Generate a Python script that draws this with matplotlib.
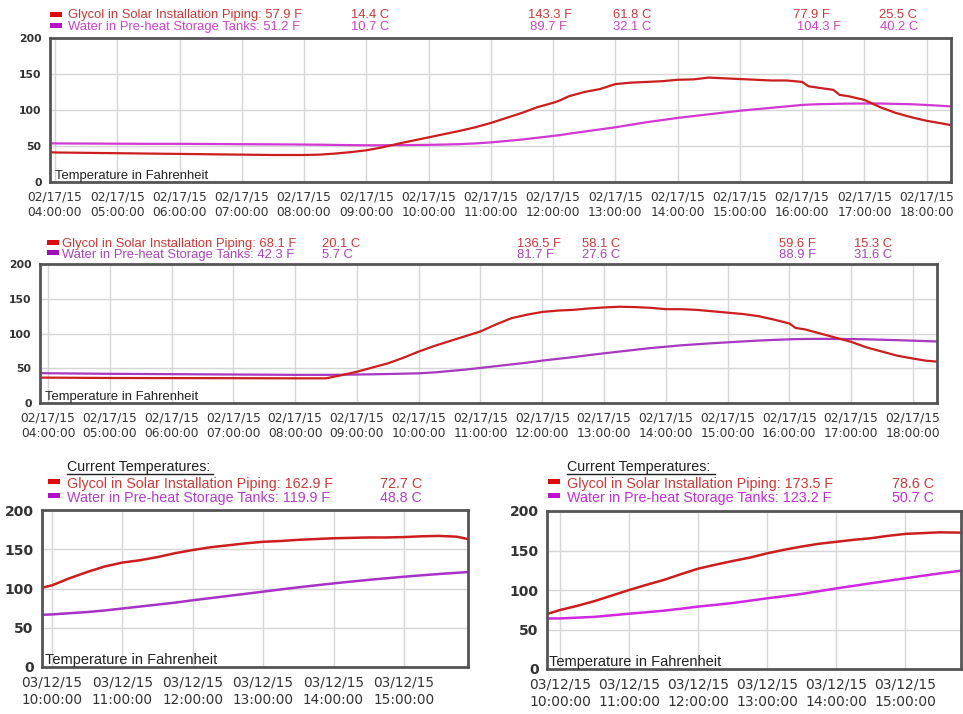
import matplotlib
matplotlib.use("Agg")
import matplotlib.pyplot as plt
from matplotlib.lines import Line2D
from matplotlib.patches import Rectangle

W, H = 963, 714

# hour ticks
feb_hours = [4, 5, 6, 7, 8, 9, 10, 11, 12, 13, 14, 15, 16, 17, 18]
mar_hours = [10, 11, 12, 13, 14, 15]

# panel 1 (02/17/15, first day view)
p1_time = [3.92, 4.0, 4.5, 5.0, 5.5, 6.0, 6.5, 7.0, 7.5, 8.0, 8.25, 8.5, 8.75, 9.0,
           9.25, 9.5, 9.75, 10.0, 10.25, 10.5, 10.75, 11.0, 11.25, 11.5, 11.75, 12.0,
           12.1, 12.25, 12.5, 12.75, 13.0, 13.25, 13.5, 13.75, 14.0, 14.25, 14.5,
           14.75, 15.0, 15.25, 15.5, 15.75, 16.0, 16.1, 16.25, 16.5, 16.6, 16.75,
           17.0, 17.25, 17.5, 17.75, 18.0, 18.2, 18.39]
p1_glycol = [41.5, 41, 40.5, 40, 39.5, 39, 38.5, 38, 37.5, 37.5, 38, 39.5, 41.5, 44,
             48, 53, 57.5, 62, 66.5, 71, 76, 82, 89, 96, 104, 110,
             113, 119, 125, 129, 136, 138, 139, 140, 142, 142.5, 145,
             144, 143, 142, 141, 141, 139, 133, 131, 128, 121, 119,
             114, 104, 96, 90, 85, 82, 79]
p1_water = [53.8, 53.6, 53.4, 53.2, 53.0, 53.0, 52.8, 52.5, 52.3, 52.0, 51.8, 51.5, 51.2, 51.0,
            51.0, 51.2, 51.4, 51.6, 52.0, 52.6, 53.6, 55, 57, 59, 61.5, 64,
            65, 67, 70, 73, 76, 79.5, 83, 86, 89, 91.5, 94,
            96.5, 99, 101, 103, 105, 107, 107.5, 108, 108.5, 108.7, 108.9,
            109, 109, 108.5, 108, 107, 106, 105]

# panel 2 (02/17/15, second view)
p2_time = [3.87, 4.0, 5.0, 6.0, 7.0, 8.0, 8.5, 8.75, 9.0, 9.25, 9.5, 9.75, 10.0,
           10.25, 10.5, 10.75, 11.0, 11.25, 11.5, 11.75, 12.0, 12.25, 12.5, 12.75,
           13.0, 13.25, 13.5, 13.75, 14.0, 14.25, 14.5, 14.75, 15.0, 15.25, 15.5,
           15.75, 16.0, 16.1, 16.25, 16.5, 16.75, 17.0, 17.25, 17.5, 17.75, 18.0,
           18.2, 18.39]
p2_glycol = [36.5, 36.5, 36, 35.8, 35.7, 35.5, 35.5, 40, 45, 51, 57, 65, 74,
             82, 89, 96, 103, 113, 122, 127, 131, 133, 134, 136,
             137.5, 138.5, 138, 137, 135, 135, 134, 132, 130, 128, 125,
             120, 114.5, 108, 106, 100, 94, 88, 80, 74, 68, 64,
             61, 59.5]
p2_water = [43, 42.8, 42, 41.5, 41, 40.5, 40.5, 40.7, 41, 41.3, 41.7, 42.2, 42.7,
            44, 46, 48, 50.5, 53, 55.5, 58, 61, 63.5, 66, 68.8,
            71.5, 74, 76.5, 79, 81, 83, 84.5, 86, 87.3, 88.6, 89.8,
            90.8, 91.6, 91.9, 92.1, 92.3, 92.2, 92, 91.6, 91, 90.4, 89.7,
            89.1, 88.5]

# panel 3 (03/12/15, left)
p3_time = [9.86, 10.0, 10.25, 10.5, 10.75, 11.0, 11.25, 11.5, 11.75, 12.0, 12.25,
           12.5, 12.75, 13.0, 13.25, 13.5, 13.75, 14.0, 14.25, 14.5, 14.75, 15.0,
           15.25, 15.5, 15.75, 15.91]
p3_glycol = [101, 104, 113, 121, 128, 133, 136, 140, 145, 149, 152.5,
             155, 157.5, 159.5, 160.5, 162, 163, 164, 164.5, 165, 165, 165.5,
             166.5, 167, 166, 163]
p3_water = [66.5, 67, 68.5, 70, 72, 74.5, 77, 79.5, 82, 85, 87.7,
            90.5, 93.2, 96, 98.8, 101.5, 104, 106.5, 108.8, 111, 113, 115,
            116.8, 118.5, 120, 121]

# panel 4 (03/12/15, right)
p4_time = [9.81, 10.0, 10.25, 10.5, 10.75, 11.0, 11.25, 11.5, 11.75, 12.0, 12.25,
           12.5, 12.75, 13.0, 13.25, 13.5, 13.75, 14.0, 14.25, 14.5, 14.75, 15.0,
           15.25, 15.5, 15.81]
p4_glycol = [69.6, 74.7, 80, 86, 93, 100, 106.5, 112.7, 120, 127, 132,
             136.7, 141, 146.4, 151, 155, 158.5, 161, 163.5, 165.5, 168.5, 171,
             172, 173, 172.6]
p4_water = [64, 64, 65, 66, 68, 70, 71.8, 73.8, 76.3, 79, 81.2,
            83.5, 86.5, 89.5, 92.2, 95, 98.5, 102, 105.2, 108.5, 111.6, 114.8,
            118, 121, 124.4]

# readouts shown above the charts
p1_glycol_read = ["57.9 F", "14.4 C", "143.3 F", "61.8 C", "77.9 F", "25.5 C"]
p1_water_read = ["51.2 F", "10.7 C", "89.7 F", "32.1 C", "104.3 F", "40.2 C"]
p2_glycol_read = ["68.1 F", "20.1 C", "136.5 F", "58.1 C", "59.6 F", "15.3 C"]
p2_water_read = ["42.3 F", "5.7 C", "81.7 F", "27.6 C", "88.9 F", "31.6 C"]
p3_read = ["162.9 F", "72.7 C", "119.9 F", "48.8 C"]
p4_read = ["173.5 F", "78.6 C", "123.2 F", "50.7 C"]

RED_LINE = "#cc1e1e"
RED_TEXT = "#c83a3a"
RED_SWATCH = "#dd0c0c"
ARIAL = "Liberation Sans"

fig = plt.figure(figsize=(W / 100, H / 100), dpi=100)
fig.patch.set_facecolor("white")


def fx(x):
    return x / W


def fy(y):
    return 1 - y / H


def panel(left, top, right, bottom, xlim, hours, date, tick_fs, ytick_fs, temp_fs):
    ax = fig.add_axes([fx(left), fy(bottom), (right - left) / W, (bottom - top) / H])
    ax.set_xlim(*xlim)
    ax.set_ylim(0, 200)
    ax.set_xticks(hours)
    ax.set_xticklabels([f"{date}\n{h:02d}:00:00" for h in hours], fontsize=tick_fs,
                       linespacing=1.3, color="#333333", family="DejaVu Sans")
    ax.set_yticks([0, 50, 100, 150, 200])
    ax.set_yticklabels(["0", "50", "100", "150", "200"], fontsize=ytick_fs,
                       color="#333333", family="DejaVu Sans", fontweight="bold")
    ax.tick_params(length=0, pad=6)
    ax.grid(color="#d6d6d6", lw=1)
    ax.set_axisbelow(True)
    for s in ax.spines.values():
        s.set_color("#555555")
        s.set_linewidth(2)
    ax.text(0.006, 0.0, "Temperature in Fahrenheit", transform=ax.transAxes,
            va="bottom", ha="left", fontsize=temp_fs, family=ARIAL, color="#222222")
    return ax


def swatch(x, y, color):
    fig.add_artist(Rectangle((fx(x), fy(y + 2)), 12 / W, 5 / H, transform=fig.transFigure,
                             facecolor=color, edgecolor="none"))


def label(x, y, s, color, fs):
    fig.text(fx(x), fy(y), s, color=color, fontsize=fs, family=ARIAL, va="center", ha="left")


def underlined(x, y, s, fs, width):
    fig.text(fx(x), fy(y), s, color="#222222", fontsize=fs, family=ARIAL,
             va="center", ha="left")
    fig.add_artist(Line2D([fx(x), fx(x + width)], [fy(y + 7), fy(y + 7)],
                          transform=fig.transFigure, color="#222222", lw=1.0, zorder=10))


# ---- panel 1 ----
ax1 = panel(50, 38, 951, 182, (3.92, 18.39), feb_hours, "02/17/15", 8.8, 7.8, 9.4)
ax1.plot(p1_time, p1_water, color="#d238d2", lw=1.6)
ax1.plot(p1_time, p1_glycol, color=RED_LINE, lw=1.6)
P1_MAG = "#c845c8"
swatch(50, 15, RED_SWATCH)
swatch(50, 26, "#b80fc8")
label(68, 15, "Glycol in Solar Installation Piping: " + p1_glycol_read[0], RED_TEXT, 9.4)
label(68, 27, "Water in Pre-heat Storage Tanks: " + p1_water_read[0], P1_MAG, 9.4)
for xg, xw, i in [(351, 351, 1), (528, 530, 2), (613, 613, 3), (793, 797, 4), (879, 880, 5)]:
    label(xg, 15, p1_glycol_read[i], RED_TEXT, 9.4)
    label(xw, 27, p1_water_read[i], P1_MAG, 9.4)

# ---- panel 2 ----
ax2 = panel(40, 264, 937, 403, (3.87, 18.39), feb_hours, "02/17/15", 8.8, 7.8, 9.4)
ax2.plot(p2_time, p2_water, color="#a838c0", lw=1.6)
ax2.plot(p2_time, p2_glycol, color=RED_LINE, lw=1.6)
P2_MAG = "#a848b8"
swatch(47, 243, RED_SWATCH)
swatch(47, 253, "#a010b8")
label(62, 244, "Glycol in Solar Installation Piping: " + p2_glycol_read[0], RED_TEXT, 9.4)
label(62, 255, "Water in Pre-heat Storage Tanks: " + p2_water_read[0], P2_MAG, 9.4)
for xg, i in [(322, 1), (517, 2), (582, 3), (779, 4), (854, 5)]:
    label(xg, 244, p2_glycol_read[i], RED_TEXT, 9.4)
    label(xg, 255, p2_water_read[i], P2_MAG, 9.4)

# ---- panel 3 ----
ax3 = panel(42, 510, 468, 667, (9.86, 15.91), mar_hours, "03/12/15", 9.8, 10, 10.5)
ax3.plot(p3_time, p3_water, color="#a832c8", lw=1.8)
ax3.plot(p3_time, p3_glycol, color=RED_LINE, lw=1.8)
underlined(67, 467, "Current Temperatures:", 10.3, 146)
swatch(48, 482, RED_SWATCH)
swatch(48, 496, "#b010c8")
label(67, 484, "Glycol in Solar Installation Piping: " + p3_read[0], RED_TEXT, 10.3)
label(67, 498, "Water in Pre-heat Storage Tanks: " + p3_read[2], "#b040c8", 10.3)
label(380, 484, p3_read[1], RED_TEXT, 10.3)
label(380, 498, p3_read[3], "#b040c8", 10.3)

# ---- panel 4 ----
ax4 = panel(547, 511, 961, 669, (9.81, 15.81), mar_hours, "03/12/15", 10, 10, 10.5)
ax4.plot(p4_time, p4_water, color="#d028e0", lw=1.8)
ax4.plot(p4_time, p4_glycol, color=RED_LINE, lw=1.8)
underlined(567, 467, "Current Temperatures:", 10.3, 148)
swatch(548, 482, RED_SWATCH)
swatch(548, 496, "#c010d0")
label(567, 484, "Glycol in Solar Installation Piping: " + p4_read[0], RED_TEXT, 10.3)
label(567, 498, "Water in Pre-heat Storage Tanks: " + p4_read[2], "#c030d8", 10.3)
label(892, 484, p4_read[1], RED_TEXT, 10.3)
label(892, 498, p4_read[3], "#c030d8", 10.3)

fig.savefig("out.png", dpi=100)
